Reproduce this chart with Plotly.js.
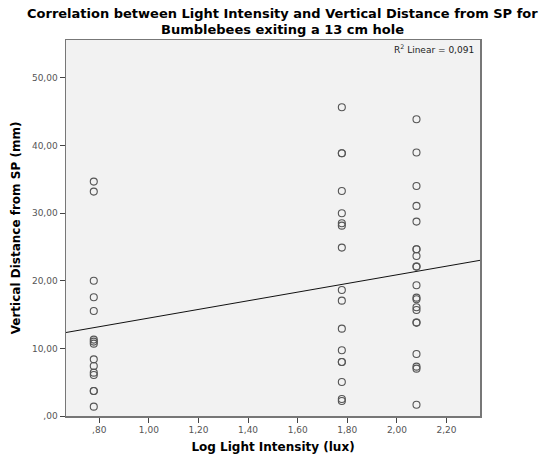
<!DOCTYPE html>
<html>
<head>
<meta charset="utf-8">
<script src="https://cdn.plot.ly/plotly-3.0.1.min.js"></script>
<style>
  html, body { margin: 0; padding: 0; background: #fff; }
  #chart { width: 543px; height: 458px; }
</style>
</head>
<body>
<div id="chart"></div>
<script>
// Log10 light intensity (lux) for each of the three light levels
const logLux6 = 0.778;
const logLux60 = 1.778;
const logLux120 = 2.079;

// Vertical distance from SP (mm) recorded at each light level
const distAt6 = [34.66, 33.18, 20.0, 17.55, 15.53, 11.3, 11.0, 10.7, 8.38, 7.4, 6.41, 6.07, 3.7, 3.7, 1.38];
const distAt60 = [45.66, 38.86, 38.86, 33.28, 29.98, 28.5, 28.15, 24.9, 18.64, 17.06, 12.92, 9.72, 7.99, 7.99, 5.03, 2.51, 2.22];
const distAt120 = [43.89, 38.96, 34.02, 31.07, 28.75, 24.66, 24.66, 23.67, 22.09, 22.09, 19.33, 17.5, 17.26, 16.08, 15.68, 13.81, 13.81, 9.17, 7.3, 7.0, 1.67];

// Axis tick labels (comma decimal separator, no leading zero)
const xTickVals = [0.8, 1.0, 1.2, 1.4, 1.6, 1.8, 2.0, 2.2];
const xTickText = [',80', '1,00', '1,20', '1,40', '1,60', '1,80', '2,00', '2,20'];
const yTickVals = [0, 10, 20, 30, 40, 50];
const yTickText = [',00', '10,00', '20,00', '30,00', '40,00', '50,00'];

const titleLines = [
  'Correlation between Light Intensity and Vertical Distance from SP for',
  'Bumblebees exiting a 13 cm hole'
];
const rSquaredLabel = '0,091';

const xRange = [0.666, 2.335];
const yRange = [0, 55.6];

// Build the point arrays
const xs = [], ys = [];
[[logLux6, distAt6], [logLux60, distAt60], [logLux120, distAt120]].forEach(([lx, arr]) => {
  arr.forEach(v => { xs.push(lx); ys.push(v); });
});

// Ordinary least squares fit line
const n = xs.length;
const mx = xs.reduce((a, b) => a + b, 0) / n;
const my = ys.reduce((a, b) => a + b, 0) / n;
let sxy = 0, sxx = 0;
for (let i = 0; i < n; i++) {
  sxy += (xs[i] - mx) * (ys[i] - my);
  sxx += (xs[i] - mx) * (xs[i] - mx);
}
const slope = sxy / sxx;
const intercept = my - slope * mx;
const fitX = [xRange[0], xRange[1]];
const fitY = fitX.map(x => intercept + slope * x);

const font = 'DejaVu Sans, Verdana, sans-serif';

const traces = [
  {
    x: fitX, y: fitY, type: 'scatter', mode: 'lines',
    line: { color: '#111', width: 1 },
    hoverinfo: 'skip', showlegend: false
  },
  {
    x: xs, y: ys, type: 'scatter', mode: 'markers',
    marker: { symbol: 'circle-open', size: 7, color: '#555', line: { width: 1.1, color: '#555' } },
    showlegend: false
  }
];

const titleFont = { family: font, size: 13, color: '#000', weight: 'bold' };

const layout = {
  width: 543, height: 458,
  margin: { l: 66, r: 63, t: 40, b: 42 },
  paper_bgcolor: '#ffffff',
  plot_bgcolor: '#f2f2f2',
  font: { family: font, color: '#333' },
  xaxis: {
    range: xRange, tickvals: xTickVals, ticktext: xTickText,
    ticks: 'outside', ticklen: 5, tickcolor: '#444', tickwidth: 1,
    showgrid: false, zeroline: false,
    showline: true, mirror: true, linecolor: '#777', linewidth: 1.5,
    tickfont: { size: 9, color: '#555', family: font },
    title: { text: 'Log Light Intensity (lux)', font: { size: 12, color: '#000', weight: 'bold', family: font }, standoff: 8 }
  },
  yaxis: {
    range: yRange, tickvals: yTickVals, ticktext: yTickText,
    ticks: 'outside', ticklen: 5, tickcolor: '#444', tickwidth: 1,
    showgrid: false, zeroline: false,
    showline: true, mirror: true, linecolor: '#777', linewidth: 1.5,
    tickfont: { size: 9, color: '#555', family: font },
    title: { text: 'Vertical Distance from SP (mm)', font: { size: 12, color: '#000', weight: 'bold', family: font }, standoff: 8 }
  },
  annotations: [
    {
      xref: 'paper', yref: 'paper', x: 0.524, y: 1.0718, xanchor: 'center', yanchor: 'middle',
      text: titleLines[0], showarrow: false, font: titleFont
    },
    {
      xref: 'paper', yref: 'paper', x: 0.524, y: 1.0266, xanchor: 'center', yanchor: 'middle',
      text: titleLines[1], showarrow: false, font: titleFont
    },
    {
      xref: 'paper', yref: 'paper', x: 1, y: 1, xanchor: 'right', yanchor: 'top',
      xshift: -4, yshift: -1,
      text: 'R<sup>2</sup> Linear = ' + rSquaredLabel,
      showarrow: false,
      font: { size: 9, color: '#222', family: font }
    }
  ]
};

Plotly.newPlot('chart', traces, layout, { displayModeBar: false, staticPlot: true });
</script>
</body>
</html>
